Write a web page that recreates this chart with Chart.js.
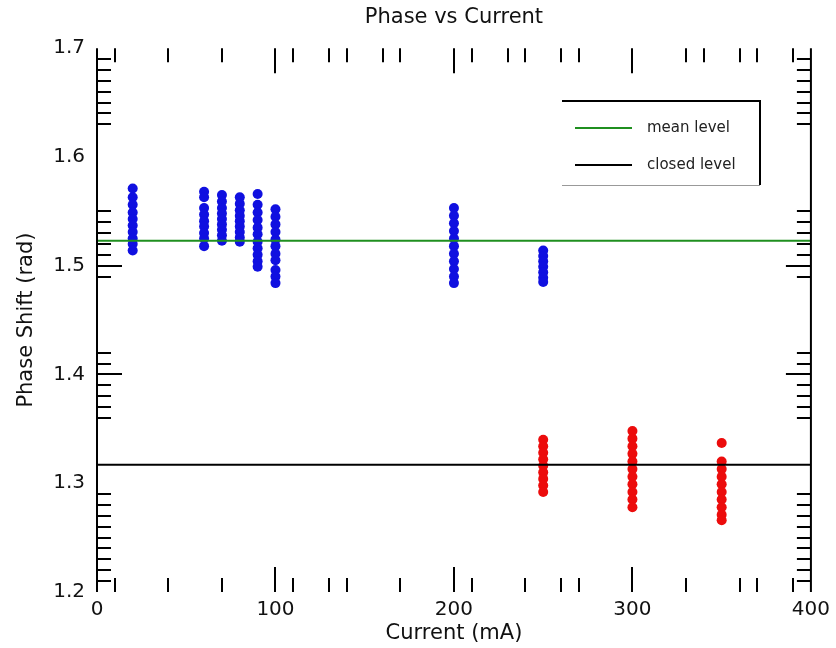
<!DOCTYPE html>
<html><head><meta charset="utf-8">
<script src="https://cdn.jsdelivr.net/npm/chart.js@4/dist/chart.umd.min.js"></script>
<style>html,body{margin:0;padding:0;background:#fff}#wrap{width:836px;height:648px}</style>
</head><body><div id="wrap"><canvas id="c" width="836" height="648"></canvas></div>
<script>
// ---- data ----
const chartTitle = 'Phase vs Current';
const xAxisTitle = 'Current (mA)';
const yAxisTitle = 'Phase Shift (rad)';
const xTickValues = [0, 100, 200, 300, 400];
const yTickValues = [1.2, 1.3, 1.4, 1.5, 1.6, 1.7];
const xMajorMarks = [100, 200, 300];
const xMinorTop = [10, 40, 70, 110, 130, 140, 160, 170, 210, 230, 240, 260, 270, 330, 340, 360, 370, 390];
const xMinorBottom = [10, 40, 70, 110, 130, 140, 170, 210, 240, 260, 270, 330, 360, 370, 390];
const yMajorMarks = [1.4, 1.5];
const yMinorMarks = [1.69, 1.68, 1.67, 1.66, 1.65, 1.64, 1.63, 1.55, 1.54, 1.53, 1.52, 1.51, 1.49,
  1.42, 1.41, 1.39, 1.38, 1.37, 1.36, 1.29, 1.28, 1.27, 1.26, 1.25, 1.24, 1.23, 1.22, 1.21];

const openCurrents = [20, 60, 70, 80, 90, 100, 200, 250];
const openPhases = [
  [1.571, 1.563, 1.556, 1.549, 1.543, 1.537, 1.531, 1.525, 1.520, 1.514],
  [1.568, 1.563, 1.553, 1.547, 1.541, 1.536, 1.530, 1.525, 1.518],
  [1.565, 1.559, 1.553, 1.548, 1.543, 1.538, 1.533, 1.528, 1.523],
  [1.563, 1.557, 1.551, 1.546, 1.541, 1.536, 1.531, 1.526, 1.522],
  [1.566, 1.556, 1.549, 1.542, 1.535, 1.529, 1.522, 1.516, 1.510, 1.504, 1.499],
  [1.552, 1.545, 1.538, 1.531, 1.524, 1.518, 1.511, 1.505, 1.496, 1.490, 1.484],
  [1.553, 1.546, 1.539, 1.532, 1.525, 1.518, 1.511, 1.504, 1.497, 1.490, 1.484],
  [1.514, 1.509, 1.504, 1.499, 1.494, 1.489, 1.485]
];
const closedCurrents = [250, 300, 350];
const closedPhases = [
  [1.340, 1.334, 1.328, 1.322, 1.316, 1.310, 1.304, 1.298, 1.292],
  [1.348, 1.341, 1.334, 1.327, 1.320, 1.313, 1.306, 1.299, 1.292, 1.285, 1.278],
  [1.337, 1.320, 1.313, 1.306, 1.299, 1.292, 1.285, 1.278, 1.271, 1.266]
];
const meanLevelLabel = 'mean level';
const meanLevel = 1.523;
const closedLevelLabel = 'closed level';
const closedLevel = 1.317;

// ---- build ----
function toPoints(xs, ys) {
  const pts = [];
  xs.forEach((x, i) => ys[i].forEach(y => pts.push({x: x, y: y})));
  return pts;
}
const xMin = xTickValues[0], xMax = xTickValues[xTickValues.length - 1];
const FONT = "'DejaVu Sans', sans-serif";

const framePlugin = {
  id: 'frame',
  afterLayout(chart) {
    // centre the title over the plot area
    if (chart.titleBlock) {
      chart.titleBlock.left = chart.chartArea.left;
      chart.titleBlock.right = chart.chartArea.right;
      chart.titleBlock.width = chart.chartArea.right - chart.chartArea.left;
    }
  },
  afterDatasetsDraw(chart) {
    const {ctx, chartArea: a, scales: {x, y}} = chart;
    ctx.save();
    ctx.strokeStyle = '#000';
    ctx.lineWidth = 2;
    ctx.beginPath();
    ctx.moveTo(a.left, a.top); ctx.lineTo(a.left, a.bottom);
    ctx.moveTo(a.right, a.top); ctx.lineTo(a.right, a.bottom);
    const MAJ = 25, MIN = 14;
    const vt = (v, len, fromTop) => {
      const px = Math.round(x.getPixelForValue(v));
      if (fromTop) { ctx.moveTo(px, a.top); ctx.lineTo(px, a.top + len); }
      else { ctx.moveTo(px, a.bottom); ctx.lineTo(px, a.bottom - len); }
    };
    xMajorMarks.forEach(v => { vt(v, MAJ, true); vt(v, MAJ, false); });
    xMinorTop.forEach(v => vt(v, MIN, true));
    xMinorBottom.forEach(v => vt(v, MIN, false));
    const ht = (v, len) => {
      const py = Math.round(y.getPixelForValue(v));
      ctx.moveTo(a.left, py); ctx.lineTo(a.left + len, py);
      ctx.moveTo(a.right, py); ctx.lineTo(a.right - len, py);
    };
    yMajorMarks.forEach(v => ht(v, MAJ));
    yMinorMarks.forEach(v => ht(v, MIN));
    ctx.stroke();

    // legend box
    const bx0 = 562, bx1 = 760, by0 = 101, by1 = 185;
    ctx.beginPath();
    ctx.moveTo(bx0, by0); ctx.lineTo(bx1, by0); ctx.lineTo(bx1, by1);
    ctx.stroke();
    ctx.strokeStyle = '#999'; ctx.lineWidth = 1;
    ctx.beginPath(); ctx.moveTo(bx0, by1 + 0.5); ctx.lineTo(bx1, by1 + 0.5); ctx.stroke();
    const items = chart.data.datasets.filter(d => d.showLine);
    ctx.font = '15px ' + FONT;
    ctx.textBaseline = 'middle';
    ctx.fillStyle = '#222';
    items.forEach((d, i) => {
      const yy = 128 + i * 37;
      ctx.strokeStyle = d.borderColor; ctx.lineWidth = 2;
      ctx.beginPath(); ctx.moveTo(575, yy); ctx.lineTo(632, yy); ctx.stroke();
      ctx.fillText(d.label, 647, yy);
    });
    ctx.restore();
  }
};

new Chart(document.getElementById('c'), {
  type: 'scatter',
  data: {
    datasets: [
      {label: meanLevelLabel, data: [{x: xMin, y: meanLevel}, {x: xMax, y: meanLevel}],
       showLine: true, borderColor: '#1f8f1f', borderWidth: 2, pointRadius: 0, order: 0},
      {label: closedLevelLabel, data: [{x: xMin, y: closedLevel}, {x: xMax, y: closedLevel}],
       showLine: true, borderColor: '#000000', borderWidth: 2, pointRadius: 0, order: 0},
      {label: 'open', data: toPoints(openCurrents, openPhases),
       backgroundColor: '#1010e0', borderWidth: 0, pointRadius: 5, order: 1},
      {label: 'closed', data: toPoints(closedCurrents, closedPhases),
       backgroundColor: '#ec0c0c', borderWidth: 0, pointRadius: 5, order: 1}
    ]
  },
  options: {
    responsive: false, animation: false, devicePixelRatio: 1,
    layout: {padding: {left: 0, right: 22, top: 0, bottom: 0}},
    plugins: {
      legend: {display: false},
      tooltip: {enabled: false},
      title: {display: true, text: chartTitle, color: '#111',
        font: {family: FONT, size: 21, weight: 'normal'}, padding: {top: 5, bottom: 18}}
    },
    scales: {
      x: {
        type: 'linear', min: xMin, max: xMax,
        afterBuildTicks: s => { s.ticks = xTickValues.map(v => ({value: v})); },
        ticks: {color: '#111', font: {family: FONT, size: 20}, padding: 6, maxRotation: 0},
        grid: {display: false, drawTicks: false}, border: {display: false},
        title: {display: true, text: xAxisTitle, color: '#111',
          font: {family: FONT, size: 21}, padding: {top: 0, bottom: 2}},
        afterFit: s => { s.height = 56; }
      },
      y: {
        type: 'linear', min: yTickValues[0], max: yTickValues[yTickValues.length - 1],
        afterBuildTicks: s => { s.ticks = yTickValues.map(v => ({value: v})); },
        ticks: {color: '#111', font: {family: FONT, size: 20}, padding: 12,
          callback: v => v.toFixed(1)},
        grid: {display: false, drawTicks: false}, border: {display: false},
        title: {display: true, text: yAxisTitle, color: '#111',
          font: {family: FONT, size: 21}, padding: {top: 14, bottom: 0}},
        afterFit: s => { s.width = 97; }
      }
    }
  },
  plugins: [framePlugin]
});
</script>
</body></html>
